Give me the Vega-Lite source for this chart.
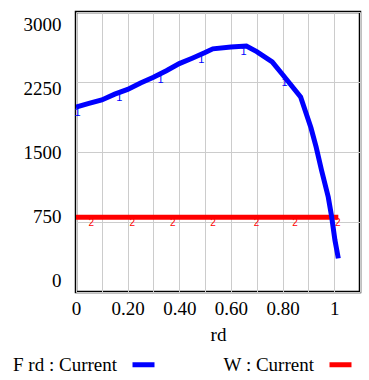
{
  "$schema": "https://vega.github.io/schema/vega-lite/v6.json",
  "width": 284,
  "height": 280,
  "autosize": "none",
  "padding": {"left": 76, "top": 12, "right": 9, "bottom": 88},
  "background": "white",
  "config": {
    "font": "Liberation Serif",
    "view": {"stroke": "black", "strokeWidth": 2.5},
    "axis": {
      "labelFont": "Liberation Serif", "labelFontSize": 19, "labelColor": "black",
      "titleFont": "Liberation Serif", "titleFontSize": 19, "titleFontWeight": "normal", "titleColor": "black",
      "gridColor": "#cccccc", "gridWidth": 1, "ticks": false, "domain": false
    }
  },
  "datasets": {
    "F": [
      {"rd": 0, "v": 1980}, {"rd": 0.05, "v": 2020}, {"rd": 0.1, "v": 2058}, {"rd": 0.15, "v": 2120},
      {"rd": 0.2, "v": 2170}, {"rd": 0.25, "v": 2240}, {"rd": 0.3, "v": 2300}, {"rd": 0.35, "v": 2370},
      {"rd": 0.4, "v": 2447}, {"rd": 0.45, "v": 2505}, {"rd": 0.5, "v": 2565}, {"rd": 0.53, "v": 2605},
      {"rd": 0.6, "v": 2625}, {"rd": 0.66, "v": 2635}, {"rd": 0.7, "v": 2575}, {"rd": 0.76, "v": 2465},
      {"rd": 0.8, "v": 2330}, {"rd": 0.87, "v": 2089}, {"rd": 0.91, "v": 1760}, {"rd": 0.93, "v": 1554},
      {"rd": 0.951, "v": 1304}, {"rd": 0.977, "v": 1018}, {"rd": 0.99, "v": 810}, {"rd": 1.003, "v": 554},
      {"rd": 1.009, "v": 465}, {"rd": 1.016, "v": 360}
    ],
    "W": [{"rd": 0, "v": 800}, {"rd": 1.016, "v": 800}],
    "F1": [
      {"rd": 0.006, "v": 1985, "m": "1"}, {"rd": 0.168, "v": 2140, "m": "1"}, {"rd": 0.328, "v": 2340, "m": "1"},
      {"rd": 0.485, "v": 2550, "m": "1"}, {"rd": 0.649, "v": 2633, "m": "1"}, {"rd": 0.808, "v": 2300, "m": "1"}
    ],
    "W2": [
      {"rd": 0.059, "v": 800, "m": "2"}, {"rd": 0.218, "v": 800, "m": "2"}, {"rd": 0.375, "v": 800, "m": "2"},
      {"rd": 0.531, "v": 800, "m": "2"}, {"rd": 0.699, "v": 800, "m": "2"}, {"rd": 0.848, "v": 800, "m": "2"},
      {"rd": 1.014, "v": 800, "m": "2"}
    ]
  },
  "encoding": {
    "x": {
      "field": "rd", "type": "quantitative",
      "scale": {"domain": [0, 1.1], "nice": false, "zero": false},
      "axis": {
        "values": [0, 0.1, 0.2, 0.3, 0.4, 0.5, 0.6, 0.7, 0.8, 0.9, 1, 1.1],
        "labelExpr": "datum.value == 0 ? '0' : datum.value == 1 ? '1' : (datum.value < 1 && round(datum.value * 10) % 2 == 0) ? format(datum.value, '.2f') : ''",
        "labelPadding": 7, "titlePadding": 7, "title": "rd", "labelFlush": false, "labelOverlap": false
      }
    },
    "y": {
      "field": "v", "type": "quantitative",
      "scale": {"domain": [0, 3000], "nice": false},
      "axis": {
        "values": [0, 750, 1500, 2250, 3000], "format": "d",
        "title": null, "labelPadding": 15, "labelFlush": false, "labelOverlap": false,
        "labelOffset": {"expr": "-11.6 + datum.value * 0.008"}
      }
    }
  },
  "layer": [
    {
      "data": {"name": "W"},
      "mark": {"type": "line", "strokeWidth": 5, "clip": true},
      "encoding": {
        "color": {
          "datum": "W : Current", "type": "nominal",
          "scale": {"domain": ["F rd : Current", "W : Current"], "range": ["#0000ff", "#ff0000"]},
          "legend": {
            "orient": "none", "legendX": 54, "legendY": 339, "direction": "horizontal", "title": null,
            "symbolType": "stroke", "symbolStrokeWidth": 5, "symbolSize": 484,
            "labelFont": "Liberation Serif", "labelFontSize": 19, "labelColor": "black",
            "labelAlign": "right", "labelOffset": -40, "columnPadding": 58, "labelLimit": 0
          }
        }
      }
    },
    {
      "data": {"name": "W2"},
      "mark": {"type": "text", "color": "#ff0000", "font": "Liberation Sans", "fontSize": 10, "baseline": "top", "dy": 1},
      "encoding": {"text": {"field": "m"}}
    },
    {
      "data": {"name": "F"},
      "mark": {"type": "line", "strokeWidth": 5, "clip": true},
      "encoding": {"color": {"datum": "F rd : Current", "type": "nominal"}}
    },
    {
      "data": {"name": "F1"},
      "mark": {"type": "text", "color": "#0000ff", "font": "Liberation Sans", "fontSize": 11, "baseline": "top", "dy": 0},
      "encoding": {"text": {"field": "m"}}
    }
  ]
}
